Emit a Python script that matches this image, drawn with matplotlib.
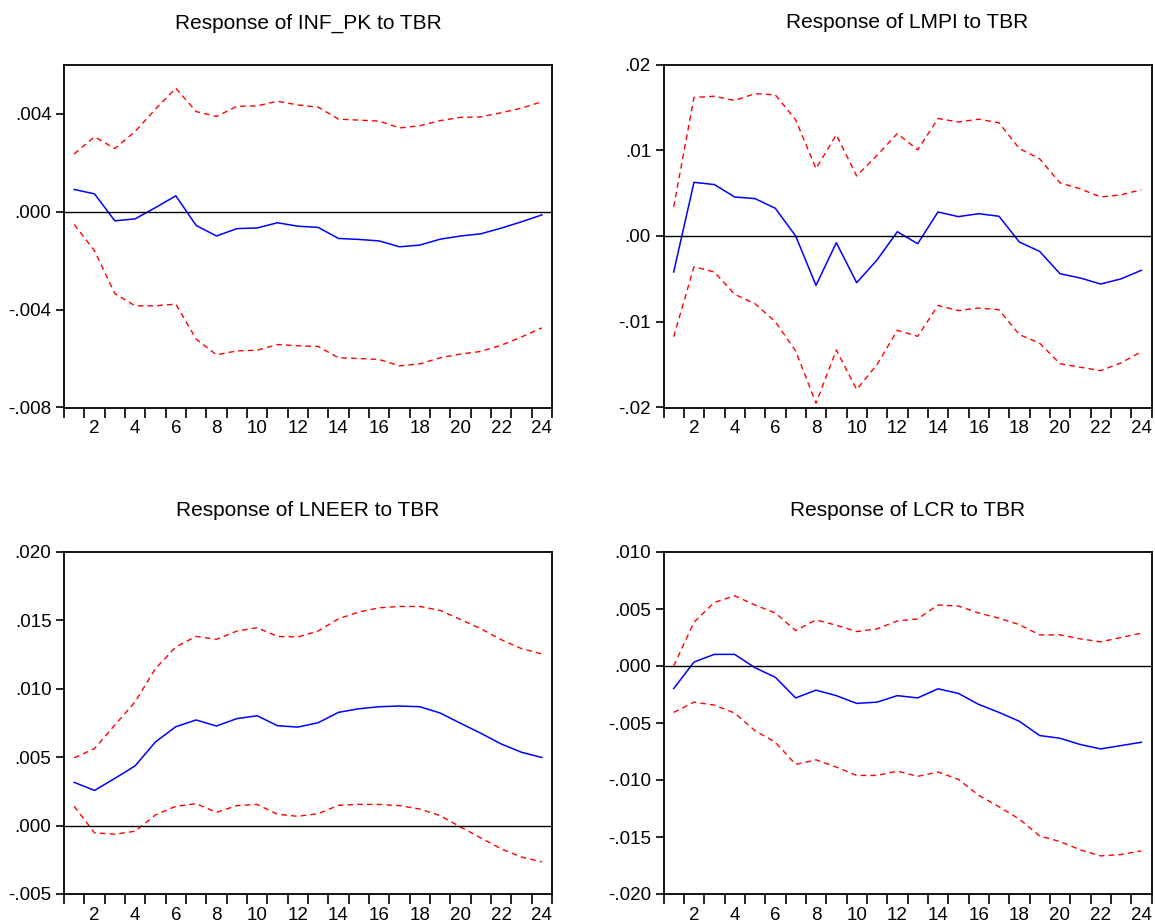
import matplotlib.pyplot as plt
from matplotlib.ticker import FuncFormatter, FixedLocator

plt.rcParams['font.family'] = ['Liberation Sans', 'DejaVu Sans']

periods = list(range(1, 25))

# Response of INF_PK to TBR
inf_resp = [0.0009, 0.00072, -0.00038, -0.0003, 0.00016, 0.00064, -0.00057, -0.001,
            -0.0007, -0.00067, -0.00046, -0.0006, -0.00065, -0.0011, -0.00114, -0.0012,
            -0.00144, -0.00137, -0.00113, -0.001, -0.00091, -0.00068, -0.00042, -0.00014]
inf_up = [0.00235, 0.00305, 0.00257, 0.00327, 0.00418, 0.00503, 0.00408, 0.00388,
          0.00429, 0.00431, 0.0045, 0.00435, 0.00426, 0.00377, 0.00373, 0.00369,
          0.00341, 0.0035, 0.00371, 0.00384, 0.00386, 0.00403, 0.00422, 0.00448]
inf_lo = [-0.00053, -0.0016, -0.00335, -0.00385, -0.00385, -0.00378, -0.00521, -0.00585,
          -0.00569, -0.00566, -0.00543, -0.00548, -0.00551, -0.00597, -0.006, -0.00604,
          -0.0063, -0.00622, -0.00597, -0.00582, -0.00571, -0.00546, -0.00512, -0.00475]

# Response of LMPI to TBR
lmpi_resp = [-0.0042, 0.00626, 0.006, 0.00455, 0.00436, 0.00323, 0.0, -0.00576,
             -0.00078, -0.00545, -0.0028, 0.0005, -0.0009, 0.0028, 0.00226, 0.0026,
             0.0023, -0.0007, -0.0018, -0.0044, -0.0049, -0.0056, -0.005, -0.004]
lmpi_up = [0.0034, 0.01615, 0.0163, 0.0158, 0.0166, 0.01646, 0.01354, 0.00786,
           0.0118, 0.007, 0.0094, 0.01195, 0.01004, 0.0137, 0.0133, 0.01362,
           0.0132, 0.0102, 0.009, 0.0062, 0.0055, 0.00455, 0.0048, 0.0054]
lmpi_lo = [-0.01175, -0.00358, -0.0042, -0.0068, -0.0079, -0.01, -0.0134, -0.0195,
           -0.0133, -0.0179, -0.015, -0.011, -0.0117, -0.0081, -0.0087, -0.0084,
           -0.0086, -0.0115, -0.0125, -0.0149, -0.0153, -0.0157, -0.0148, -0.0135]

# Response of LNEER to TBR
lneer_resp = [0.00316, 0.00257, 0.00345, 0.00437, 0.00612, 0.00723, 0.00772, 0.00728,
              0.00782, 0.00803, 0.0073, 0.0072, 0.00752, 0.00828, 0.00854, 0.00869,
              0.00874, 0.00869, 0.00823, 0.00748, 0.00675, 0.00597, 0.00536, 0.00498]
lneer_up = [0.00495, 0.00563, 0.00735, 0.00905, 0.01148, 0.01306, 0.01383, 0.01362,
            0.01422, 0.01447, 0.01383, 0.01379, 0.01422, 0.01512, 0.01561, 0.01592,
            0.01602, 0.01602, 0.01573, 0.01507, 0.01439, 0.01359, 0.01294, 0.01255]
lneer_lo = [0.00141, -0.00053, -0.00063, -0.00041, 0.00078, 0.00141, 0.0016, 0.00097,
            0.00146, 0.00155, 0.00083, 0.00068, 0.00087, 0.00148, 0.00155, 0.00155,
            0.00146, 0.00121, 0.00073, -0.0001, -0.0009, -0.0017, -0.0023, -0.00265]

# Response of LCR to TBR
lcr_resp = [-0.00198, 0.00035, 0.00102, 0.00102, -0.00015, -0.00099, -0.0028, -0.00212,
            -0.0026, -0.00328, -0.00317, -0.0026, -0.0028, -0.002, -0.0024, -0.00337,
            -0.00407, -0.00485, -0.0061, -0.00634, -0.00689, -0.00727, -0.00698, -0.00669]
lcr_up = [0.0, 0.00384, 0.00558, 0.00616, 0.00535, 0.00465, 0.00311, 0.00404,
          0.00358, 0.00302, 0.00326, 0.00395, 0.00413, 0.00535, 0.00526, 0.00465,
          0.00419, 0.00363, 0.00273, 0.00273, 0.00238, 0.00212, 0.0025, 0.00288]
lcr_lo = [-0.00407, -0.00317, -0.00343, -0.00413, -0.00567, -0.00669, -0.00863, -0.00823,
          -0.00887, -0.0096, -0.0096, -0.00922, -0.00968, -0.0093, -0.00994, -0.01134,
          -0.01235, -0.01343, -0.01491, -0.0154, -0.01613, -0.01666, -0.01654, -0.01622]

panels = [
    ("Response of INF_PK to TBR", inf_resp, inf_up, inf_lo, (-0.008, 0.006), [-0.008, -0.004, 0.0, 0.004], 3),
    ("Response of LMPI to TBR", lmpi_resp, lmpi_up, lmpi_lo, (-0.02, 0.02), [-0.02, -0.01, 0.0, 0.01, 0.02], 2),
    ("Response of LNEER to TBR", lneer_resp, lneer_up, lneer_lo, (-0.005, 0.02), [-0.005, 0.0, 0.005, 0.01, 0.015, 0.02], 3),
    ("Response of LCR to TBR", lcr_resp, lcr_up, lcr_lo, (-0.02, 0.01), [-0.02, -0.015, -0.01, -0.005, 0.0, 0.005, 0.01], 3),
]

# axes rectangles in figure fractions (left, bottom, width, height)
rects = [
    (64 / 1155, 1 - 407.5 / 923, 488 / 1155, 343 / 923),
    (663.5 / 1155, 1 - 407.5 / 923, 488 / 1155, 343 / 923),
    (64 / 1155, 1 - 894 / 923, 488 / 1155, 342 / 923),
    (663.5 / 1155, 1 - 894 / 923, 488 / 1155, 342 / 923),
]


def make_fmt(dec):
    def f(v, pos):
        s = f"{v:.{dec}f}"
        if abs(v) < 1e-12:
            s = f"{0:.{dec}f}"
        return s.replace("0.", ".", 1)
    return f


fig = plt.figure(figsize=(11.55, 9.23), dpi=100)

for (title, resp, up, lo, ylim, yticks, dec), rect in zip(panels, rects):
    ax = fig.add_axes(rect)
    ax.plot(periods, up, color='red', linestyle=(0, (4, 3)), linewidth=1.0)
    ax.plot(periods, lo, color='red', linestyle=(0, (4, 3)), linewidth=1.0)
    ax.plot(periods, resp, color='blue', linewidth=1.1)
    ax.axhline(0, color='black', linewidth=1.0)
    ax.set_xlim(0.5, 24.5)
    ax.set_ylim(*ylim)
    ax.set_yticks(yticks)
    ax.yaxis.set_major_formatter(FuncFormatter(make_fmt(dec)))
    ax.set_xticks(range(2, 25, 2))
    ax.xaxis.set_minor_locator(FixedLocator([i + 0.5 for i in range(0, 25)]))
    ax.tick_params(axis='x', which='major', length=0, pad=9, labelsize=13.5)
    ax.tick_params(axis='x', which='minor', length=7, width=1.2, direction='out')
    ax.tick_params(axis='y', which='major', length=6, width=1.2, direction='out', labelsize=13.5, pad=3)
    for sp in ax.spines.values():
        sp.set_linewidth(1.3)
    ax.set_title(title, fontsize=15, pad=26)

fig.savefig("out.png", dpi=100)
